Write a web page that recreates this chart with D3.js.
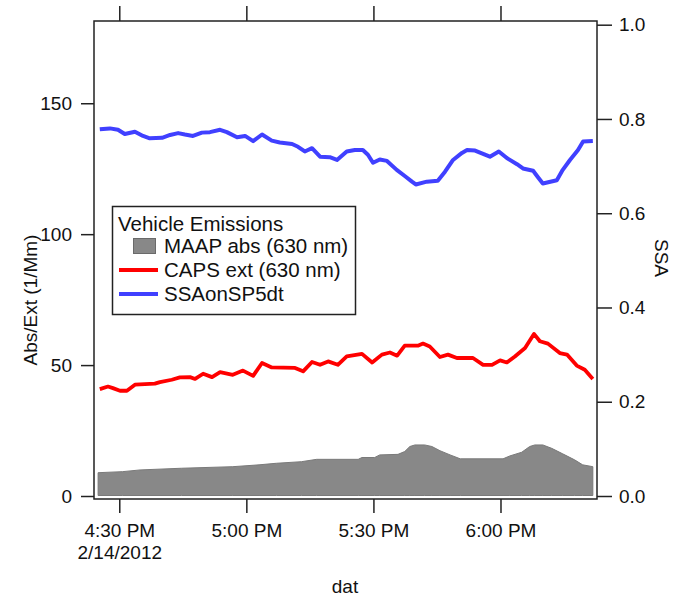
<!DOCTYPE html>
<html>
<head>
<meta charset="utf-8">
<script src="https://cdn.jsdelivr.net/npm/d3@7"></script>
<style>
  body { margin: 0; background: #fff; }
  svg text { font-family: "Liberation Sans", Arial, sans-serif; font-size: 19px; fill: #111; }
</style>
</head>
<body>
<svg id="chart" width="682" height="597"></svg>
<script>
// time of day for each series (2/14/2012)
const ssaTimes = ['16:25:24', '16:27:48', '16:29:42', '16:31:18', '16:33:42', '16:35:36', '16:37:12', '16:40:06',
  '16:42:00', '16:43:54', '16:45:30', '16:47:24', '16:49:30', '16:51:24', '16:53:48', '16:55:24', '16:57:48',
  '16:59:42', '17:01:36', '17:03:42', '17:06:00', '17:07:54', '17:10:48', '17:12:12', '17:13:48', '17:15:30',
  '17:17:24', '17:19:42', '17:21:24', '17:23:42', '17:25:36', '17:27:30', '17:28:42', '17:29:54', '17:31:30',
  '17:33:12', '17:35:30', '17:37:24', '17:39:06', '17:40:00', '17:42:36', '17:45:12', '17:46:54', '17:48:48',
  '17:50:54', '17:52:06', '17:54:00', '17:55:36', '17:57:30', '17:59:36', '18:01:30', '18:03:54', '18:05:18',
  '18:07:42', '18:08:48', '18:10:00', '18:13:18', '18:14:42', '18:16:24', '18:18:18', '18:19:30', '18:21:48']
const ssaValues = [0.778, 0.780, 0.777, 0.768, 0.773, 0.764, 0.759, 0.760,
  0.766, 0.770, 0.767, 0.764, 0.771, 0.772, 0.777, 0.772, 0.761,
  0.764, 0.753, 0.767, 0.754, 0.750, 0.747, 0.741, 0.731, 0.738,
  0.720, 0.719, 0.713, 0.731, 0.734, 0.734, 0.724, 0.707, 0.714,
  0.711, 0.692, 0.679, 0.667, 0.661, 0.667, 0.669, 0.688, 0.713,
  0.728, 0.734, 0.733, 0.727, 0.720, 0.731, 0.717, 0.704, 0.695,
  0.690, 0.677, 0.663, 0.670, 0.692, 0.713, 0.734, 0.752, 0.753]

const capsTimes = ['16:25:24', '16:27:20', '16:28:30', '16:30:10', '16:31:48', '16:33:42', '16:38:24', '16:39:36',
  '16:42:24', '16:44:18', '16:46:42', '16:47:54', '16:49:48', '16:51:54', '16:53:48', '16:56:48', '16:59:12',
  '17:01:36', '17:03:42', '17:06:00', '17:11:30', '17:13:24', '17:15:30', '17:17:24', '17:19:18', '17:21:36',
  '17:23:42', '17:27:18', '17:29:42', '17:32:00', '17:33:54', '17:35:36', '17:37:24', '17:40:30', '17:41:42',
  '17:43:18', '17:45:42', '17:47:36', '17:49:42', '17:53:30', '17:55:54', '17:58:00', '17:59:54', '18:01:30',
  '18:03:24', '18:05:48', '18:07:54', '18:09:18', '18:11:12', '18:14:00', '18:15:42', '18:18:00', '18:19:54',
  '18:21:48']
const capsValues = [40.8, 41.8, 41.2, 40.2, 40.2, 42.5, 42.9, 43.5,
  44.4, 45.3, 45.4, 44.7, 46.7, 45.4, 47.3, 46.3, 47.9,
  45.9, 50.8, 49.1, 48.9, 47.6, 51.2, 50.1, 51.4, 50.1,
  53.3, 54.3, 51.0, 54.0, 54.8, 53.6, 57.4, 57.4, 58.2,
  57.1, 53.1, 54.0, 52.7, 52.7, 50.1, 50.1, 51.8, 51.0,
  53.3, 56.5, 61.9, 59.1, 58.2, 54.6, 54.0, 49.8, 48.2,
  44.7]

const maapTimes = ['16:25:00', '16:30:48', '16:34:54', '16:44:42', '16:56:48', '17:03:00', '17:07:06', '17:13:00',
  '17:16:36', '17:26:24', '17:27:18', '17:30:18', '17:31:30', '17:35:48', '17:37:24', '17:38:36', '17:39:48',
  '17:42:06', '17:43:48', '17:45:42', '17:48:06', '17:50:30', '18:00:36', '18:02:12', '18:05:00', '18:06:54',
  '18:08:06', '18:10:00', '18:12:06', '18:14:42', '18:17:30', '18:19:24', '18:21:48']
const maapValues = [8.9, 9.3, 9.95, 10.6, 11.2, 11.9, 12.5, 13.1,
  14.0, 14.0, 14.7, 14.7, 15.7, 15.9, 17.0, 18.9, 19.5,
  19.5, 18.9, 17.3, 15.7, 14.2, 14.2, 15.3, 16.7, 18.9,
  19.5, 19.5, 18.2, 16.1, 13.8, 11.9, 11.2]

const timeTicks = ['16:30:00', '17:00:00', '17:30:00', '18:00:00']
const timeTickLabels = ['4:30 PM', '5:00 PM', '5:30 PM', '6:00 PM']
const dateLabel = '2/14/2012'
const leftTicks = [0, 50, 100, 150]
const rightTicks = [0, 0.2, 0.4, 0.6, 0.8, 1.0]

const legendTitle = 'Vehicle Emissions'
const legendNames = ['MAAP abs (630 nm)', 'CAPS ext (630 nm)', 'SSAonSP5dt']

const parse = d3.timeParse('%H:%M:%S')
const zip = (ts, vs) => ts.map((t, i) => ({ t: parse(t), v: vs[i] }))
const ssa = zip(ssaTimes, ssaValues)
const caps = zip(capsTimes, capsValues)
const maap = zip(maapTimes, maapValues)

const frame = { left: 94, right: 597, top: 21, bottom: 499 }
const y0 = 496, y1 = 24.7

const x = d3.scaleTime().domain([parse('16:24:02'), parse('18:22:47')]).range([frame.left, frame.right])
const yL = d3.scaleLinear().domain([0, 180]).range([y0, y1])
const yR = d3.scaleLinear().domain([0, 1]).range([y0, y1])

const svg = d3.select('#chart')

// area for MAAP absorption
svg.append('path')
  .datum(maap)
  .attr('fill', '#888888')
  .attr('stroke', '#7a7a7a')
  .attr('stroke-width', 1)
  .attr('d', d3.area().x((d) => x(d.t)).y0(y0 - 0.5).y1((d) => yL(d.v)))

// CAPS extinction
svg.append('path')
  .datum(caps)
  .attr('fill', 'none')
  .attr('stroke', '#ff0000')
  .attr('stroke-width', 3.8)
  .attr('stroke-linejoin', 'round')
  .attr('d', d3.line().x((d) => x(d.t)).y((d) => yL(d.v)))

// SSA on right axis
svg.append('path')
  .datum(ssa)
  .attr('fill', 'none')
  .attr('stroke', '#4040ff')
  .attr('stroke-width', 4)
  .attr('stroke-linejoin', 'round')
  .attr('d', d3.line().x((d) => x(d.t)).y((d) => yR(d.v)))

// ****************** axes ***************************
const axisColor = '#222'

const styleAxis = (g) => {
  g.select('.domain').remove()
  g.selectAll('.tick line').attr('stroke', axisColor).attr('stroke-width', 1.5)
  g.selectAll('.tick text').attr('font-size', null).attr('font-family', null).attr('fill', '#111')
}

svg.append('g')
  .attr('transform', `translate(${frame.left},0)`)
  .call(d3.axisLeft(yL).tickValues(leftTicks).tickSize(13).tickPadding(9).tickFormat(d3.format('d')))
  .call(styleAxis)

svg.append('g')
  .attr('transform', `translate(${frame.right},0)`)
  .call(d3.axisRight(yR).tickValues(rightTicks).tickSize(15).tickPadding(7).tickFormat(d3.format('.1f')))
  .call(styleAxis)

const bottom = svg.append('g')
  .attr('transform', `translate(0,${frame.bottom})`)
  .call(d3.axisBottom(x).tickValues(timeTicks.map(parse)).tickSize(14).tickPadding(24)
    .tickFormat((d, i) => timeTickLabels[i]))
  .call(styleAxis)
bottom.selectAll('.tick text').attr('dy', '0')
bottom.selectAll('.tick').filter((d, i) => i === 0)
  .append('text')
  .attr('y', 60)
  .attr('text-anchor', 'middle')
  .text(dateLabel)

svg.append('g')
  .attr('transform', `translate(0,${frame.top})`)
  .call(d3.axisTop(x).tickValues(timeTicks.map(parse)).tickSize(15).tickFormat(''))
  .call(styleAxis)

// frame
svg.append('path')
  .attr('fill', 'none')
  .attr('stroke', axisColor)
  .attr('stroke-width', 1.5)
  .attr('d', `M${frame.left},${frame.bottom}V${frame.top}H${frame.right}V${frame.bottom}Z`)

// axis titles
svg.append('text')
  .attr('transform', 'translate(30,300) rotate(-90)')
  .attr('text-anchor', 'middle')
  .attr('dy', '0.35em')
  .text('Abs/Ext (1/Mm)')

svg.append('text')
  .attr('transform', 'translate(662,258) rotate(90)')
  .attr('text-anchor', 'middle')
  .attr('dy', '0.35em')
  .text('SSA')

svg.append('text')
  .attr('x', 345)
  .attr('y', 586)
  .attr('text-anchor', 'middle')
  .attr('dy', '0.35em')
  .text('dat')

// ****************** legend ***************************
const legend = svg.append('g').style('font-size', '20.5px')
legend.append('rect')
  .attr('x', 112.5).attr('y', 206.5).attr('width', 243).attr('height', 108)
  .attr('fill', '#fff').attr('stroke', axisColor).attr('stroke-width', 1.5)

legend.append('text').attr('x', 118).attr('y', 224).attr('dy', '0.35em')
  .style('font-size', '20.5px').text(legendTitle)

const rowY = [246, 270, 294]
legend.append('rect')
  .attr('x', 133.5).attr('y', rowY[0] - 7.5).attr('width', 22).attr('height', 15)
  .attr('fill', '#888888').attr('stroke', '#6a6a6a')
legend.append('line')
  .attr('x1', 119).attr('x2', 158).attr('y1', rowY[1]).attr('y2', rowY[1])
  .attr('stroke', '#ff0000').attr('stroke-width', 4)
legend.append('line')
  .attr('x1', 119).attr('x2', 158).attr('y1', rowY[2]).attr('y2', rowY[2])
  .attr('stroke', '#4040ff').attr('stroke-width', 4)

legend.selectAll('text.name')
  .data(legendNames)
  .enter()
  .append('text')
  .attr('class', 'name')
  .attr('x', 164)
  .attr('y', (d, i) => rowY[i])
  .attr('dy', '0.35em')
  .style('font-size', '20.5px')
  .text((d) => d)
</script>
</body>
</html>
